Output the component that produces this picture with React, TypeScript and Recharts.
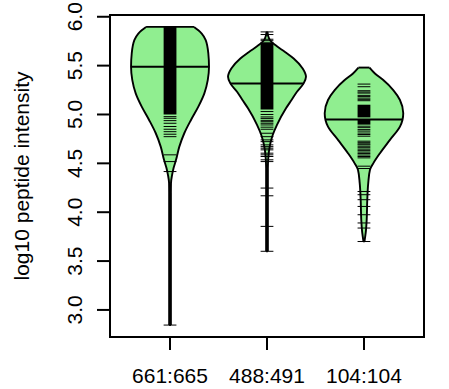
import {
  Area,
  ComposedChart,
  Label,
  ReferenceArea,
  ReferenceLine,
  XAxis,
  YAxis,
} from 'recharts';

const font = '"Liberation Sans", Arial, sans-serif';

const groups = ['661:665', '488:491', '104:104'];
const yTicks = [3.0, 3.5, 4.0, 4.5, 5.0, 5.5, 6.0];
const yDomain: [number, number] = [2.723, 6.018];
const xDomain: [number, number] = [0.381, 3.619];

// bean outlines: [log10 intensity, density half-width in group units]
const bean661 = [
  [5.896, 0.247], [5.862, 0.292], [5.828, 0.327], [5.76, 0.368], [5.624, 0.395],
  [5.488, 0.402], [5.352, 0.389], [5.216, 0.354], [5.08, 0.292], [4.944, 0.216],
  [4.808, 0.147], [4.671, 0.096], [4.536, 0.062], [4.45, 0.036], [4.38, 0.021],
  [4.3, 0.01], [4.2, 0.009], [2.845, 0.009],
];
const bean488 = [
  [5.845, 0.005], [5.8, 0.013], [5.76, 0.031], [5.71, 0.086], [5.64, 0.186],
  [5.573, 0.275], [5.47, 0.368], [5.386, 0.402], [5.318, 0.378], [5.233, 0.309],
  [5.148, 0.253], [5.063, 0.196], [4.893, 0.103], [4.79, 0.059], [4.689, 0.031],
  [4.55, 0.013], [4.45, 0.009], [3.6, 0.009],
];
const bean104 = [
  [5.48, 0.057], [5.42, 0.113], [5.352, 0.199], [5.25, 0.302], [5.148, 0.371],
  [5.012, 0.405], [4.944, 0.397], [4.876, 0.371], [4.74, 0.268], [4.604, 0.165],
  [4.5, 0.096], [4.434, 0.062], [4.298, 0.044], [4.128, 0.034], [3.923, 0.028],
  [3.79, 0.018], [3.7, 0.005],
];

const medians = [5.488, 5.318, 4.948];
const medianWidths = [0.402, 0.378, 0.396];

// individual peptides (bean lines) and the runs too dense to separate
const lines661 = [4.978, 4.961, 4.937, 4.91, 4.877, 4.849, 4.824, 4.798, 4.773, 4.587, 4.518, 4.416, 2.845];
const dense661 = [[5.0, 5.896]];
const lines488 = [
  5.845, 5.818, 5.77, 5.755, 5.03, 5.0, 4.975, 4.96, 4.94, 4.926, 4.91, 4.893, 4.87, 4.849,
  4.808, 4.773, 4.74, 4.722, 4.689, 4.671, 4.655, 4.638, 4.604, 4.587, 4.57, 4.536, 4.518,
  4.247, 4.168, 3.855, 3.6,
];
const dense488 = [[5.05, 5.74]];
const lines104 = [
  5.311, 5.284, 5.243, 5.23, 5.219, 5.196, 5.185, 5.168, 5.155, 5.141, 4.88, 4.865, 4.845,
  4.83, 4.81, 4.795, 4.778, 4.727, 4.715, 4.7, 4.69, 4.675, 4.66, 4.645, 4.63, 4.615, 4.6,
  4.585, 4.57, 4.556, 4.471, 4.447, 4.212, 4.179, 4.128, 4.059, 3.974, 3.89, 3.838, 3.7,
];
const dense104 = [[4.97, 5.1], [4.896, 4.945]];

const beans = [bean661, bean488, bean104];
const beanLines = [lines661, lines488, lines104];
const beanDense = [dense661, dense488, dense104];
const lineHalf = 0.066;

const YTick = ({ x, y, payload }: any) => (
  <text
    x={x}
    y={y}
    transform={`rotate(-90, ${x}, ${y})`}
    textAnchor="middle"
    fontSize={21}
    fontFamily={font}
    fill="#000"
  >
    {Number(payload.value).toFixed(1)}
  </text>
);

const YTitle = (props: any) => {
  const vb = props.viewBox ?? { x: 0, y: 15, width: 110, height: 322 };
  const cx = vb.x + 28.5;
  const cy = vb.y + vb.height / 2;
  return (
    <text
      x={cx}
      y={cy}
      transform={`rotate(-90, ${cx}, ${cy})`}
      textAnchor="middle"
      fontSize={21}
      fontFamily={font}
      fill="#000"
    >
      log10 peptide intensity
    </text>
  );
};

export default function App() {
  // one row per outline point; the other beans get [null, null] so their outlines break
  const rows: Record<string, any>[] = [];
  beans.forEach((shape, i) =>
    shape.forEach(([v, w]) => {
      const row: Record<string, any> = { y: v };
      beans.forEach((_, k) => {
        row[`g${k}`] = k === i ? [i + 1 - w, i + 1 + w] : [null, null];
      });
      rows.push(row);
    }),
  );

  return (
    <div style={{ position: 'absolute', left: 0, top: 0, width: 449, height: 389, background: '#fff' }}>
      <ComposedChart
        width={449}
        height={389}
        data={rows}
        layout="vertical"
        margin={{ top: 15, right: 25, bottom: 0, left: 0 }}
      >
        <XAxis
          type="number"
          domain={xDomain}
          allowDataOverflow
          ticks={[1, 2, 3]}
          interval={0}
          tickFormatter={(v) => groups[Math.round(Number(v)) - 1] ?? ''}
          height={52}
          tickSize={13}
          tickMargin={18}
          axisLine={false}
          stroke="#000"
          tickLine={{ stroke: '#000', strokeWidth: 2 }}
          tick={{ fill: '#000', fontSize: 21, fontFamily: font }}
        />
        <YAxis
          type="number"
          dataKey="y"
          domain={yDomain}
          allowDataOverflow
          reversed
          ticks={yTicks}
          interval={0}
          width={110}
          tickSize={13}
          tickMargin={15}
          axisLine={false}
          stroke="#000"
          tickLine={{ stroke: '#000', strokeWidth: 2 }}
          tick={<YTick />}
        >
          <Label content={<YTitle />} />
        </YAxis>
        {beans.map((_, i) => (
          <Area
            key={`bean${i}`}
            dataKey={`g${i}`}
            type="monotone"
            fill="#90EE90"
            fillOpacity={1}
            stroke="#000"
            strokeWidth={1.9}
            dot={false}
            activeDot={false}
            isAnimationActive={false}
          />
        ))}
        {beanDense.map((bands, i) =>
          bands.map(([lo, hi], j) => (
            <ReferenceArea
              key={`dense${i}-${j}`}
              x1={i + 1 - lineHalf}
              x2={i + 1 + lineHalf}
              y1={lo}
              y2={hi}
              fill="#000"
              fillOpacity={1}
              stroke="none"
            />
          )),
        )}
        {beanLines.map((vals, i) =>
          vals.map((v, j) => (
            <ReferenceLine
              key={`line${i}-${j}`}
              segment={[
                { x: i + 1 - lineHalf, y: v },
                { x: i + 1 + lineHalf, y: v },
              ]}
              stroke="#000"
              strokeWidth={1}
            />
          )),
        )}
        {beans.map((shape, i) =>
          [shape[0], shape[shape.length - 1]].map(([v, w], j) => (
            <ReferenceLine
              key={`cap${i}-${j}`}
              segment={[
                { x: i + 1 - w, y: v },
                { x: i + 1 + w, y: v },
              ]}
              stroke="#000"
              strokeWidth={1.9}
            />
          )),
        )}
        {medians.map((m, i) => (
          <ReferenceLine
            key={`median${i}`}
            segment={[
              { x: i + 1 - medianWidths[i], y: m },
              { x: i + 1 + medianWidths[i], y: m },
            ]}
            stroke="#000"
            strokeWidth={2}
          />
        ))}
        <ReferenceArea
          x1={xDomain[0]}
          x2={xDomain[1]}
          y1={yDomain[0]}
          y2={yDomain[1]}
          fill="none"
          stroke="#000"
          strokeWidth={2}
        />
      </ComposedChart>
    </div>
  );
}
